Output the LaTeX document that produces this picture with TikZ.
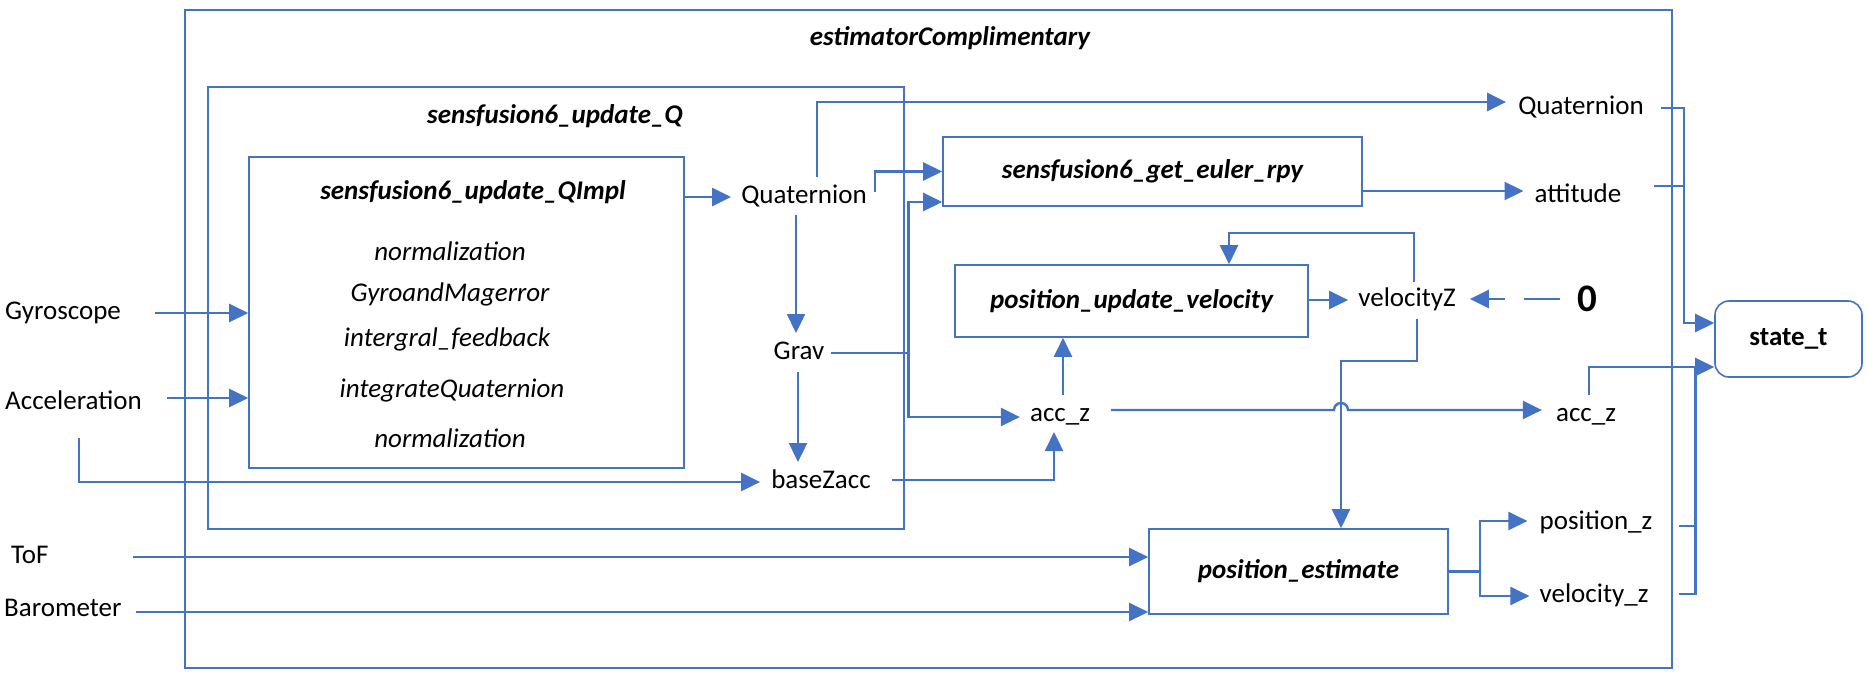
\documentclass[tikz,border=0pt]{standalone}
\usepackage{fontspec}
\setmainfont{Carlito}
\usepackage{tikz}
\usetikzlibrary{arrows.meta, positioning}
\definecolor{lineBlue}{HTML}{4472C4}

\begin{document}
\begin{tikzpicture}[
    x=1pt, y=-1pt,
    font=\fontsize{27}{32}\selectfont,
    blockbox/.style={rectangle,draw=lineBlue,line width=1.6pt,inner sep=0pt},
    statebox/.style={rectangle,rounded corners=14pt,draw=lineBlue,line width=1.6pt,inner sep=0pt,
                     minimum width=147pt,minimum height=76pt,font=\fontsize{27}{32}\selectfont\bfseries},
    title/.style={inner sep=0pt,font=\fontsize{27}{32}\selectfont\bfseries\itshape},
    step item/.style={inner sep=0pt,font=\fontsize{27}{32}\selectfont\itshape},
    sig/.style={inner sep=0pt,text height=20pt,text depth=7pt},
    wire/.style={line width=2.4pt,lineBlue},
    flow/.style={-{Triangle[length=19pt,width=18pt]},line width=2.4pt,lineBlue}
]
    \useasboundingbox (0,0) rectangle (1867,686);

    % Containers
    \node[blockbox,minimum width=1487pt,minimum height=658pt] (estimator) at (928.5,339) {};
    \node[title] (estTitle) at (950,38) {estimatorComplimentary};
    \node[blockbox,minimum width=696pt,minimum height=442pt] (updateQ) at (556,308) {};
    \node[title] (updTitle) at (555,116) {sensfusion6\_update\_Q};
    \node[blockbox,minimum width=435pt,minimum height=311pt] (qimpl) at (466.5,312.5) {};
    \node[title] (implTitle) at (473,192) {sensfusion6\_update\_QImpl};
    \node[step item] (norm1) at (450,251) {normalization};
    \node[step item] (gyroErr) at (450,294) {GyroandMagerror};
    \node[step item] (feedback) at (447,339) {intergral\_feedback};
    \node[step item] (integ) at (452,391) {integrateQuaternion};
    \node[step item] (norm2) at (450,438) {normalization};

    % Function blocks
    \node[blockbox,minimum width=419pt,minimum height=69pt,font=\fontsize{27}{32}\selectfont\bfseries\itshape] (euler) at (1152.5,171.5) {sensfusion6\_get\_euler\_rpy};
    \node[blockbox,minimum width=353pt,minimum height=72pt,font=\fontsize{27}{32}\selectfont\bfseries\itshape] (posvel) at (1131.5,301) {position\_update\_velocity};
    \node[blockbox,minimum width=299pt,minimum height=85pt,font=\fontsize{27}{32}\selectfont\bfseries\itshape] (posest) at (1298.5,571.5) {position\_estimate};
    \node[statebox] (state) at (1788.5,339) {state\_t};

    % Sensor inputs
    \node[sig,anchor=west] (gyro) at (5,313) {Gyroscope};
    \node[sig,anchor=west] (accel) at (5,403) {Acceleration};
    \node[sig,anchor=west] (tof) at (11,557) {ToF};
    \node[sig,anchor=west] (baro) at (4,610) {Barometer};

    % Signals
    \node[sig] (quatIn) at (804,197) {Quaternion};
    \node[sig] (grav) at (799,353) {Grav};
    \node[sig] (basezacc) at (821,482) {baseZacc};
    \node[sig] (acczIn) at (1060,415) {acc\_z};
    \node[sig] (velz) at (1407,300) {velocityZ};
    \node[inner sep=0pt,font=\fontsize{39}{44}\selectfont\bfseries] (zero) at (1587,299) {0};
    \node[sig] (quatOut) at (1581,108) {Quaternion};
    \node[sig] (attitude) at (1578,196) {attitude};
    \node[sig] (acczOut) at (1586,415) {acc\_z};
    \node[sig] (posz) at (1596,523) {position\_z};
    \node[sig] (velzOut) at (1594,596) {velocity\_z};

    % Inputs into the blocks
    \draw[flow] ([xshift=34pt]gyro.east) -- (gyro.east -| qimpl.west);
    \draw[flow] ([xshift=25pt,yshift=5pt]accel.east) -- ([yshift=5pt]accel.east -| qimpl.west);
    \draw[flow] ([xshift=-63pt,yshift=-35pt]accel.east) |- ([xshift=-11pt]basezacc.west);
    \draw[flow] ([xshift=84pt]tof.east) -- (tof.east -| posest.west);
    \draw[flow] ([xshift=14pt,yshift=-2pt]baro.east) -- ([yshift=-2pt]baro.east -| posest.west);

    % Quaternion paths
    \draw[flow] (qimpl.east |- quatIn) -- ([xshift=-10pt]quatIn.west);
    \draw[flow] ([xshift=13pt,yshift=20pt]quatIn.center) |- ([xshift=-12pt,yshift=6pt]quatOut.west);
    \draw[flow] ([xshift=8pt,yshift=5pt]quatIn.east) |- (euler.west);
    \draw[flow] ([xshift=-8pt,yshift=-18pt]quatIn.center) -- ([xshift=-3pt,yshift=20pt]grav.center);

    % Gravity and acceleration
    \draw[wire] ([xshift=7pt]grav.east) -- ++(77,0) coordinate (gravsplit);
    \draw[flow] (gravsplit) |- ([yshift=-30.5pt]euler.west);
    \draw[flow] (gravsplit) |- ([xshift=-10pt,yshift=-2pt]acczIn.west);
    \draw[flow] ([xshift=-1pt,yshift=-19pt]grav.center) -- ([xshift=-23pt,yshift=20pt]basezacc.center);
    \draw[flow] ([xshift=21pt,yshift=2pt]basezacc.east) -| ([xshift=-6pt,yshift=-17pt]acczIn.center);
    \draw[flow] ([xshift=3pt,yshift=20pt]acczIn.center) -- ([xshift=3pt]acczIn.center |- posvel.south);
    \coordinate (hop) at (1341,410);
    \draw[flow] ([xshift=21pt,yshift=5pt]acczIn.east) -- ([xshift=-7pt]hop)
        arc[start angle=180,end angle=0,radius=7pt] -- ([xshift=-14pt,yshift=5pt]acczOut.west);

    % Euler and velocity
    \draw[flow] ([yshift=5pt]attitude.west -| euler.east) -- ([xshift=-11pt,yshift=5pt]attitude.west);
    \draw[flow] (posvel.east |- velz) -- ([xshift=-10pt]velz.west);
    \draw[flow] ([xshift=7pt,yshift=18pt]velz.center) -- ++(0,-49) -| ([xshift=97.5pt]posvel.north);
    \draw[flow] ([xshift=10pt,yshift=-19pt]velz.center) -- ++(0,42) -| ([xshift=42.5pt]posest.north);
    \draw[flow,dash pattern=on 36pt off 19pt] ([xshift=-27pt]zero.center) -- ([xshift=14pt]velz.east |- zero);

    % Position estimate outputs
    \draw[wire] (posest.east) -- ++(31,0) coordinate (pesplit);
    \draw[flow] (pesplit) |- ([xshift=-12pt,yshift=2pt]posz.west);
    \draw[flow] (pesplit) |- ([xshift=-10pt]velzOut.west);

    % Collecting into state_t
    \draw[flow] ([xshift=17pt]quatOut.east) -- ++(23,0) |- ([yshift=16pt]state.west);
    \draw[wire] ([xshift=32pt,yshift=10pt]attitude.east) -- ++(31,0);
    \draw[flow] ([xshift=3pt,yshift=20pt]acczOut.center) |- ([yshift=-28pt]state.west);
    \draw[wire] ([xshift=26pt,yshift=-3pt]posz.east) -- ++(17,0);
    \draw[wire] ([xshift=30pt,yshift=2pt]velzOut.east) -- ++(17,0) -- ++(0,-227);
\end{tikzpicture}
\end{document}
